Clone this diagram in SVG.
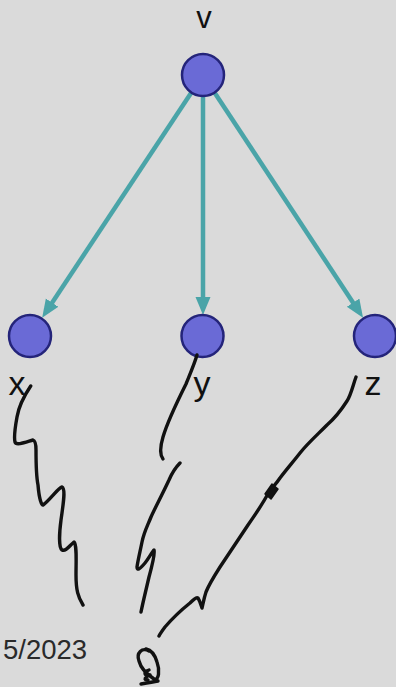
<svg xmlns="http://www.w3.org/2000/svg" width="396" height="687" viewBox="0 0 396 687">
<defs>
<marker id="ah" markerUnits="userSpaceOnUse" markerWidth="20" markerHeight="16" refX="6" refY="7.5" orient="auto">
<path d="M0,0 L18,7.5 L0,15 z" fill="#4aa4a8"/>
</marker>
<style>
.node{fill:#6a6ad6;stroke:#24247a;stroke-width:2.5}
.edge{stroke:#4aa4a8;stroke-width:4.5;fill:none;marker-end:url(#ah)}
.lbl{font-family:"Liberation Sans",Arial,sans-serif;font-size:34px;fill:#111;text-anchor:middle}
.ink{fill:none;stroke:#111;stroke-width:3.4;stroke-linecap:round;stroke-linejoin:round}
.date{font-family:"Liberation Sans",Arial,sans-serif;font-size:27.5px;fill:#2a2a2a}
</style>
</defs>
<rect width="396" height="687" fill="#dadada"/>
<g id="edges">
<line class="edge" x1="191.4" y1="92.5" x2="48.8" y2="307.7"/>
<line class="edge" x1="203" y1="96" x2="203" y2="303"/>
<line class="edge" x1="214.5" y1="92.5" x2="356.4" y2="307.7"/>
</g>
<g id="node-v"><circle class="node" cx="203" cy="75" r="21"/><text class="lbl" x="204" y="28" style="font-size:31px">v</text></g>
<g id="node-x"><circle class="node" cx="30" cy="336" r="21"/><text class="lbl" x="17" y="395">x</text></g>
<g id="node-y"><circle class="node" cx="202.5" cy="336" r="21"/><text class="lbl" x="202" y="395">y</text></g>
<g id="node-z"><circle class="node" cx="375" cy="336" r="21"/><text class="lbl" x="373" y="395">z</text></g>
<g id="ink">
<path class="ink" d="M30.7,386 C26,393 19,405 17,417 C15,428 14,438 15,442 C16,446 26,442 33,440 C36,441 36,446 36,450 C36,465 36,475 38,485 C39,497 41,505 43,505 C50,500 58,488 62,487 C66,489 63,505 61,520 C59,535 59,548 62,550 C66,552 70,545 74,542 C77,545 76,560 76,575 C76,590 78,597 83,605"/>
<path class="ink" d="M197,355 C194,365 190,374 186,384 C178,400 168,420 163,437 C160,447 160,455 163,459"/>
<path class="ink" d="M180,463 C176,467 172,473 169,480 C162,495 155,508 151,517 C147,527 144,532 142,542 C140,552 138,560 137,567 C137,571 140,569 145,563 C149,558 152,552 154,550 C155,553 152,566 149,577 C146,590 143,602 141,612"/>
<path class="ink" d="M356,377 C353,385 351,395 347,401 C340,412 335,418 327,425 C316,436 307,444 300,453 C293,462 286,470 280,478 C276,484 272,488 269,492 C262,505 255,515 248,525 C238,540 228,555 220,567 C213,578 208,587 206,592 C204,598 203,604 202,608 C201,605 200,601 198,598 C196,597 193,600 190,603 C180,611 171,620 165,627 C162,631 160,634 159,636"/>
<path d="M265,494 L272,484 L278,489 L271,499 z" fill="#111" stroke="#111" stroke-width="1.5" stroke-linejoin="round"/>
<path class="ink" d="M149,651 C142,647 136,653 139,661 C141,669 148,675 154,679 C159,681 160,670 157,662 C155,655 151,650 146,649"/>
<path class="ink" d="M149,670 C143,672 144,676 150,675 C145,677 143,680 148,680"/>
<path class="ink" d="M141,684 C147,683 153,682 158,681"/>
</g>
<text class="date" x="3" y="659">5/2023</text>
</svg>
